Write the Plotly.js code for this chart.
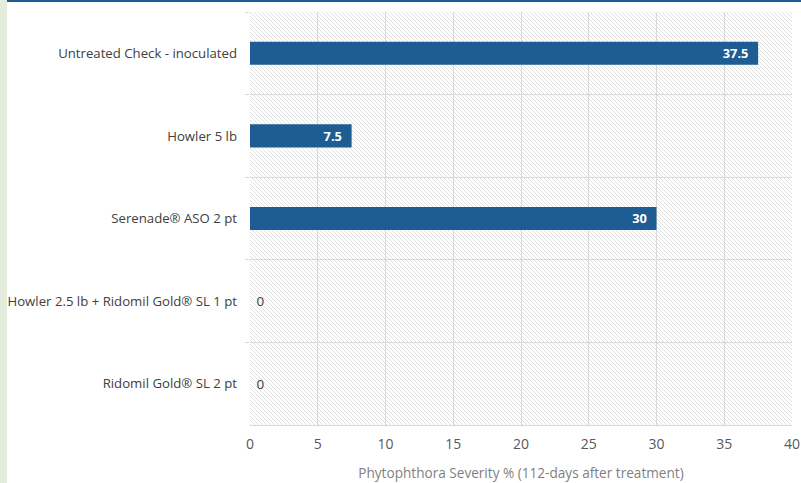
<!DOCTYPE html>
<html>
<head>
<meta charset="utf-8">
<script src="https://cdn.plot.ly/plotly-3.0.1.min.js"></script>
<style>
  html, body { margin: 0; padding: 0; background: #ffffff; }
  #wrap { position: relative; width: 801px; height: 483px; overflow: hidden; background: #ffffff; }
  #leftstrip { position: absolute; left: 0; top: 0; width: 7px; height: 483px; background: #e4ecdc; }
  #topline { position: absolute; left: 7px; top: 0; width: 794px; height: 2px; background: #1d5d92; }
  #hatch { position: absolute; left: 250px; top: 12px; width: 542px; height: 413px;
    background-color: #ffffff;
    background-image: url("data:image/svg+xml,%3Csvg xmlns='http://www.w3.org/2000/svg' width='4' height='4' shape-rendering='crispEdges'%3E%3Crect x='0' y='0' width='1' height='1' fill='%23e0e0e0'/%3E%3Crect x='1' y='1' width='1' height='1' fill='%23e0e0e0'/%3E%3Crect x='2' y='2' width='1' height='1' fill='%23e0e0e0'/%3E%3Crect x='3' y='3' width='1' height='1' fill='%23e0e0e0'/%3E%3C/svg%3E");
    background-size: 4px 4px; background-repeat: repeat; image-rendering: pixelated; }
  #chart { position: absolute; left: 0; top: 0; width: 801px; height: 483px; }
</style>
</head>
<body>
<div id="wrap">
  <div id="leftstrip"></div>
  <div id="topline"></div>
  <div id="hatch"></div>
  <div id="chart"></div>
</div>
<script>
const categories = [
  "Untreated Check - inoculated",
  "Howler 5 lb",
  "Serenade® ASO 2 pt",
  "Howler 2.5 lb + Ridomil Gold® SL 1 pt",
  "Ridomil Gold® SL 2 pt"
];
const severity = [37.5, 7.5, 30, 0, 0];
const xTicks = [0, 5, 10, 15, 20, 25, 30, 35, 40];
const xTitle = "Phytophthora Severity % (112-days after treatment)";

const NB = "\u00a0";
const trace = {
  type: "bar",
  orientation: "h",
  x: severity,
  y: categories,
  marker: { color: "#1d5d92" },
  text: severity.map(v => v > 0 ? String(v) + NB + NB : NB + String(v)),
  textposition: severity.map(v => v > 0 ? "inside" : "outside"),
  insidetextanchor: "end",
  textangle: 0,
  insidetextfont: { family: "Open Sans", size: 13.5, color: "#ffffff", weight: 700 },
  outsidetextfont: { family: "Open Sans", size: 13.5, color: "#404040" },
  cliponaxis: false,
  hoverinfo: "none"
};

const layout = {
  width: 801,
  height: 483,
  margin: { l: 250, r: 9, t: 12, b: 58 },
  paper_bgcolor: "rgba(0,0,0,0)",
  plot_bgcolor: "rgba(0,0,0,0)",
  bargap: 0.72,
  showlegend: false,
  font: { family: "Open Sans", size: 13.2, color: "#404040" },
  xaxis: {
    range: [0, 40],
    tickvals: xTicks,
    ticktext: xTicks.map(String),
    showgrid: true,
    gridcolor: "#d9d9d9",
    gridwidth: 1,
    zeroline: false,
    showline: true,
    linecolor: "#d9d9d9",
    ticks: "",
    ticklabelstandoff: 6,
    tickfont: { family: "Open Sans", size: 14, color: "#595959" },
    title: { text: xTitle, font: { family: "Open Sans", size: 13.6, color: "#7f7f7f" }, standoff: 16 },
    fixedrange: true
  },
  yaxis: {
    type: "category",
    autorange: "reversed",
    tickson: "boundaries",
    showgrid: true,
    gridcolor: "#d9d9d9",
    ticks: "outside",
    ticklen: 4,
    tickcolor: "#d9d9d9",
    showline: false,
    zeroline: false,
    ticklabelstandoff: 12,
    tickfont: { family: "Open Sans", size: 13.2, color: "#404040" },
    fixedrange: true
  }
};

Plotly.newPlot("chart", [trace], layout, { displayModeBar: false, staticPlot: true });
</script>
</body>
</html>
